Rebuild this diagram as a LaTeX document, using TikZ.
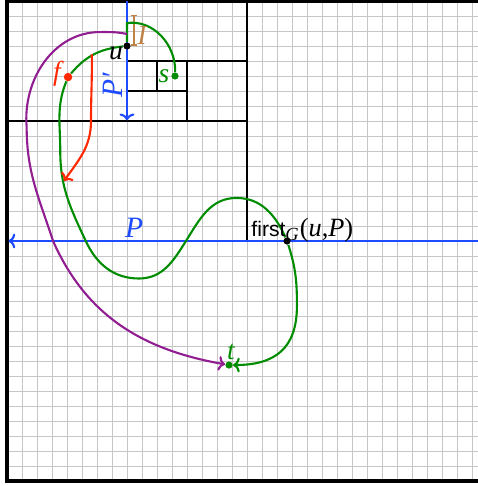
\documentclass[tikz,border=0pt]{standalone}
\usepackage{fontspec}
\setmainfont{Liberation Serif}
\setsansfont{Liberation Sans}
\usetikzlibrary{arrows.meta}
\definecolor{pblue}{RGB}{30,75,255}
\definecolor{pgreen}{RGB}{0,140,0}
\definecolor{pred}{RGB}{255,40,0}
\definecolor{ppurple}{RGB}{145,30,145}
\definecolor{pbrown}{RGB}{190,130,70}
\pgfdeclarelayer{back}
\pgfsetlayers{back,main}
\begin{document}
\begin{tikzpicture}[x=0.25cm,y=0.25cm,
  gridline/.style={gray!45, line width=0.45pt},
  cellline/.style={black, line width=1pt},
  border/.style={black, line width=1.5pt},
  pathline/.style={line width=1pt},
  dot/.style={circle, inner sep=0pt, minimum size=3.4pt},
  lbl/.style={inner sep=0pt, font=\fontsize{13}{15}\selectfont\itshape},
  >={To[length=3.2pt,width=7pt]}]
\useasboundingbox (-0.467,-0.333) rectangle (31.4,32.067);
\begin{pgfonlayer}{back}
\clip (-0.467,-0.333) rectangle (31.4,32.067);
\draw[gridline,step=0.25cm] (0,0) grid (32,32);
\draw[border] (0,0) rectangle (32,32);
\draw[cellline] (0,16) -- (32,16);
\draw[cellline] (16,16) -- (16,32);
\draw[cellline] (0,24) -- (16,24);
\draw[cellline] (8,24) -- (8,32);
\draw[cellline] (8,28) -- (16,28);
\draw[cellline] (12,24) -- (12,28);
\draw[cellline] (8,26) -- (12,26);
\draw[cellline] (10,26) -- (10,28);
\coordinate (pr) at (32,16);
\coordinate (pl) at (0.1,16);
\coordinate (pt) at (8,32);
\coordinate (pb) at (8,24.05);
\draw[pblue,pathline,->] (pr) -- (pl);
\draw[pblue,pathline,->] (pt) -- (pb);
\end{pgfonlayer}
% points
\node[dot,fill=black] (u) at (8,29) {};
\node[dot,fill=pgreen] (s) at (11.2,27) {};
\node[dot,fill=pred,minimum size=4pt] (f) at (4.07,26.93) {};
\node[dot,fill=black] (fg) at (18.67,16) {};
\node[dot,fill=pgreen] (t) at (14.8,7.73) {};
% labels
\node[lbl] (ul) at (7.27,28.5) {u};
\node[lbl,text=pbrown] (il) at (9.0,29.73) {I};
\node[lbl,text=pgreen] (sl) at (10.47,27) {s};
\node[lbl,text=pred] (fl) at (3.33,27.13) {f};
\node[lbl,text=pblue,font=\fontsize{14}{16}\selectfont\itshape] (plab) at (8.47,16.87) {P};
\node[lbl,text=pblue,font=\fontsize{14}{16}\selectfont\itshape,rotate=90] (pplab) at (7.07,26.4) {P′};
\node[lbl,text=pgreen] (tl) at (14.93,8.6) {t};
\node[inner sep=0pt,anchor=base west,font=\fontsize{12.5}{14}\selectfont] (fgl) at (16.27,16.29)
  {{\sffamily\fontsize{10}{12}\selectfont first}\textsubscript{\textit{G}}(\textit{u},\textit{P})};
\begin{pgfonlayer}{back}
% interval I
\coordinate (ib) at (8.47,29);
\coordinate (it) at (8.47,31.1);
\draw[pbrown,line width=0.8pt,{Bar[width=3pt]}-{Bar[width=3pt]}] (ib) -- (it);
% green u -> s
\coordinate (gu) at (8,30.53);
\draw[pgreen,pathline] (u) -- (gu) to[out=8,in=88] (s);
% green main
\draw[pgreen,pathline,->] (u) to[out=186,in=50] (f)
  to[out=248,in=90] (3.55,22)
  to[out=-90,in=115] (5.25,16)
  to[out=-65,in=180] (8.8,13.5)
  to[out=0,in=238] (11.93,16)
  to[out=58,in=180] (15.3,18.87)
  to[out=0,in=114] (fg)
  to[out=-72,in=90] (19.33,11.7)
  to[out=-90,in=0,looseness=1.25] (t);
% red
\coordinate (rs) at (5.65,28.45);
\coordinate (re) at (3.8,20);
\draw[pred,pathline,->] (rs) to[out=-89,in=90] (5.6,24) to[out=-90,in=55] (re);
% purple
\coordinate (ps) at (8,29.8);
\draw[ppurple,pathline,->] (ps) to[out=168,in=0] (6.2,29.93)
  to[out=180,in=95] (1.31,23.6)
  to[out=-90,in=108] (3.07,16)
  to[out=-66,in=170] (t);
\end{pgfonlayer}
\end{tikzpicture}
\end{document}
